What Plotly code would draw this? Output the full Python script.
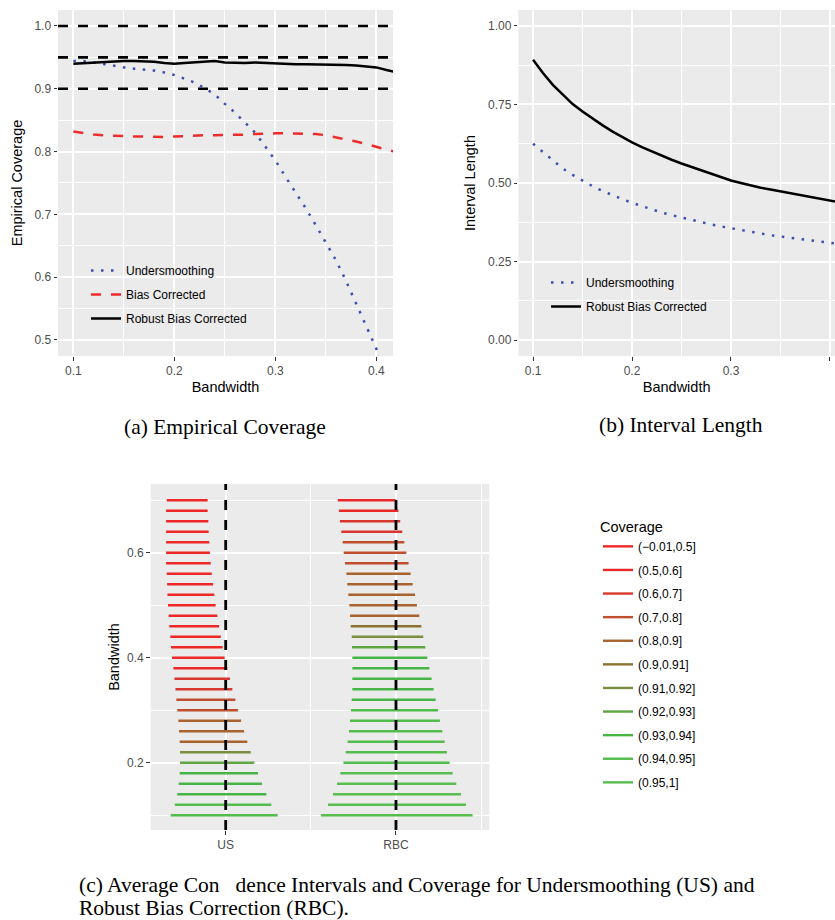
import plotly.graph_objects as go

W, H = 835, 920
def PX(p): return p / W
def PY(p): return 1 - p / H

# ---------------- Panel (a): empirical coverage ----------------
bw_a = [0.10, 0.11, 0.12, 0.13, 0.14, 0.15, 0.16, 0.17, 0.18, 0.19, 0.20,
        0.21, 0.22, 0.23, 0.24, 0.25, 0.26, 0.27, 0.28, 0.29, 0.30,
        0.31, 0.32, 0.33, 0.34, 0.35, 0.36, 0.37, 0.38, 0.39, 0.40, 0.41, 0.42]
cov_us = [0.944, 0.944, 0.942, 0.939, 0.936, 0.934, 0.932, 0.931, 0.929, 0.926, 0.922,
          0.916, 0.910, 0.901, 0.891, 0.876, 0.862, 0.846, 0.830, 0.808, 0.786,
          0.760, 0.736, 0.710, 0.683, 0.656, 0.627, 0.594, 0.559, 0.524, 0.488, 0.450, 0.414]
cov_bc = [0.832, 0.829, 0.827, 0.826, 0.825, 0.825, 0.824, 0.824, 0.823, 0.823, 0.824,
          0.825, 0.825, 0.826, 0.826, 0.826, 0.826, 0.827, 0.828, 0.829, 0.829,
          0.829, 0.829, 0.828, 0.828, 0.826, 0.823, 0.820, 0.816, 0.812, 0.807, 0.803, 0.799]
cov_rbc = [0.940, 0.941, 0.942, 0.943, 0.943, 0.944, 0.944, 0.944, 0.943, 0.941, 0.940,
           0.941, 0.942, 0.943, 0.944, 0.942, 0.941, 0.941, 0.942, 0.941, 0.940,
           0.940, 0.939, 0.939, 0.939, 0.939, 0.938, 0.938, 0.937, 0.936, 0.934, 0.930, 0.926]
ref_levels = [1.0, 0.95, 0.90]

# ---------------- Panel (b): interval length ----------------
bw_b = [0.10, 0.11, 0.12, 0.13, 0.14, 0.15, 0.16, 0.17, 0.18, 0.19, 0.20,
        0.21, 0.22, 0.23, 0.24, 0.25, 0.26, 0.27, 0.28, 0.29, 0.30,
        0.31, 0.32, 0.33, 0.34, 0.35, 0.36, 0.37, 0.38, 0.39, 0.40, 0.41]
len_us = [0.625, 0.598, 0.570, 0.546, 0.526, 0.508, 0.490, 0.475, 0.461, 0.449, 0.437,
          0.426, 0.416, 0.406, 0.398, 0.390, 0.383, 0.375, 0.368, 0.362, 0.356,
          0.350, 0.345, 0.339, 0.334, 0.330, 0.326, 0.322, 0.318, 0.314, 0.310, 0.306]
len_rbc = [0.892, 0.850, 0.812, 0.780, 0.751, 0.727, 0.705, 0.684, 0.664, 0.646, 0.629,
           0.614, 0.600, 0.587, 0.574, 0.562, 0.551, 0.540, 0.529, 0.518, 0.508,
           0.500, 0.492, 0.485, 0.479, 0.473, 0.467, 0.461, 0.454, 0.448, 0.443, 0.438]

# ---------------- Panel (c): average CIs ----------------
ci_methods = ["US", "RBC"]
ci_centers = [1, 2]
bw_c = [0.70, 0.68, 0.66, 0.64, 0.62, 0.60, 0.58, 0.56, 0.54, 0.52, 0.50,
        0.48, 0.46, 0.44, 0.42, 0.40, 0.38, 0.36, 0.34, 0.32, 0.30,
        0.28, 0.26, 0.24, 0.22, 0.20, 0.18, 0.16, 0.14, 0.12, 0.10]
us_lo = [-0.346, -0.350, -0.350, -0.350, -0.350, -0.350, -0.350, -0.346, -0.344, -0.342, -0.339,
         -0.335, -0.331, -0.325, -0.321, -0.315, -0.307, -0.301, -0.295, -0.290, -0.284,
         -0.278, -0.274, -0.270, -0.268, -0.268, -0.270, -0.276, -0.284, -0.299, -0.323]
us_hi = [-0.106, -0.106, -0.102, -0.100, -0.096, -0.092, -0.088, -0.082, -0.074, -0.067, -0.059,
         -0.049, -0.039, -0.029, -0.018, -0.006, 0.010, 0.025, 0.039, 0.057, 0.072,
         0.090, 0.108, 0.127, 0.147, 0.168, 0.190, 0.213, 0.239, 0.268, 0.305]
rbc_lo = [-0.342, -0.335, -0.329, -0.321, -0.313, -0.307, -0.299, -0.291, -0.286, -0.280, -0.274,
          -0.270, -0.266, -0.260, -0.258, -0.256, -0.256, -0.256, -0.256, -0.260, -0.264,
          -0.270, -0.276, -0.284, -0.295, -0.309, -0.327, -0.346, -0.370, -0.399, -0.440]
rbc_hi = [-0.002, 0.014, 0.025, 0.037, 0.049, 0.061, 0.074, 0.086, 0.098, 0.112, 0.123,
          0.137, 0.149, 0.160, 0.172, 0.184, 0.196, 0.209, 0.221, 0.233, 0.247,
          0.258, 0.272, 0.286, 0.299, 0.315, 0.333, 0.354, 0.382, 0.411, 0.450]
cov_labels = ["(\u22120.01,0.5]", "(0.5,0.6]", "(0.6,0.7]", "(0.7,0.8]", "(0.8,0.9]",
              "(0.9,0.91]", "(0.91,0.92]", "(0.92,0.93]", "(0.93,0.94]", "(0.94,0.95]", "(0.95,1]"]
cov_colors = ["#EE2727", "#EA2828", "#D8372D", "#C14E2E", "#A8632F", "#8C7331",
              "#7A8D40", "#5EA544", "#46B545", "#52BC4C", "#58BE50"]
us_bin = [0, 0, 0, 0, 0, 0, 0, 0, 0, 0, 0, 0, 0, 0, 0, 0,
          1, 2, 2, 3, 3, 4, 4, 4, 6, 7, 8, 8, 8, 9, 9]
rbc_bin = [1, 1, 2, 2, 3, 3, 3, 4, 4, 4, 4, 4, 5, 6, 7, 8,
           8, 8, 8, 8, 9, 9, 9, 9, 9, 9, 10, 10, 10, 10, 10]

BLUE = "#3C4FB0"
RED = "#EE2C2C"
LW = 2.5
fig = go.Figure()

# panel (a)
fig.add_trace(go.Scatter(x=bw_a, y=cov_us, mode="lines", name="Undersmoothing",
                         line=dict(color=BLUE, width=LW, dash="2.5px,7.5px"),
                         xaxis="x", yaxis="y", legend="legend", legendgroup="a1"))
fig.add_trace(go.Scatter(x=bw_a, y=cov_bc, mode="lines", name="Bias Corrected",
                         line=dict(color=RED, width=LW, dash="10px,10px"),
                         xaxis="x", yaxis="y", legend="legend", legendgroup="a2"))
fig.add_trace(go.Scatter(x=bw_a, y=cov_rbc, mode="lines", name="Robust Bias Corrected",
                         line=dict(color="black", width=LW),
                         xaxis="x", yaxis="y", legend="legend", legendgroup="a3"))
# panel (b)
fig.add_trace(go.Scatter(x=bw_b, y=len_us, mode="lines", name="Undersmoothing",
                         line=dict(color=BLUE, width=LW, dash="2.5px,7.5px"),
                         xaxis="x2", yaxis="y2", legend="legend2", legendgroup="b1"))
fig.add_trace(go.Scatter(x=bw_b, y=len_rbc, mode="lines", name="Robust Bias Corrected",
                         line=dict(color="black", width=LW),
                         xaxis="x2", yaxis="y2", legend="legend2", legendgroup="b2"))
# panel (c)
for k, lab in enumerate(cov_labels):
    xs, ys = [], []
    for c, lo, hi, bins in ((ci_centers[0], us_lo, us_hi, us_bin),
                            (ci_centers[1], rbc_lo, rbc_hi, rbc_bin)):
        for h, l, u, b in zip(bw_c, lo, hi, bins):
            if b == k:
                xs += [c + l, c + u, None]
                ys += [h, h, None]
    fig.add_trace(go.Scatter(x=xs, y=ys, mode="lines", name=lab,
                             line=dict(color=cov_colors[k], width=2.4),
                             xaxis="x3", yaxis="y3", legend="legend3", legendgroup="c%d" % k))

shapes = []
for lv in ref_levels:
    shapes.append(dict(type="line", xref="x domain", yref="y", x0=0, x1=1, y0=lv, y1=lv,
                       line=dict(color="black", width=2.6, dash="10px,10px"), layer="above"))
for c in ci_centers:
    shapes.append(dict(type="line", xref="x3", yref="y3 domain", x0=c, x1=c, y0=0, y1=1,
                       line=dict(color="black", width=2.8, dash="10px,10px"), layer="above"))

TICKF = dict(family="Liberation Sans, Arial, sans-serif", size=12, color="#4D4D4D")
TITLEF = dict(family="Liberation Sans, Arial, sans-serif", size=14.5, color="black")
common = dict(showgrid=True, gridcolor="white", gridwidth=2, zeroline=False, showline=False,
              ticks="outside", ticklen=3.5, tickwidth=1.1, tickcolor="#333333",
              tickfont=TICKF)
minor = dict(showgrid=True, gridcolor="white", gridwidth=1, ticks="")

fig.update_layout(
    width=W, height=H, margin=dict(l=0, r=0, t=0, b=0),
    paper_bgcolor="white", plot_bgcolor="#EBEBEB",
    font=dict(family="Liberation Sans, Arial, sans-serif", color="black"),
    shapes=shapes,
    xaxis=dict(domain=[PX(58), PX(393)], range=[0.0848, 0.4165], anchor="y",
               tick0=0.1, dtick=0.1, tickformat=".1f",
               minor=dict(minor, dtick=0.05, tick0=0.1),
               title=dict(text="Bandwidth", font=TITLEF, standoff=4), **common),
    yaxis=dict(domain=[PY(356), PY(10)], range=[0.4745, 1.0254], anchor="x",
               tick0=0, dtick=0.1, tickformat=".1f",
               minor=dict(minor, dtick=0.05, tick0=0),
               title=dict(text="Empirical Coverage", font=TITLEF, standoff=8), **common),
    xaxis2=dict(domain=[PX(518.3), 1.0], range=[0.0851, 0.4051], anchor="y2",
                tick0=0.1, dtick=0.1, tickformat=".1f",
                minor=dict(minor, dtick=0.05, tick0=0.1),
                title=dict(text="Bandwidth", font=TITLEF, standoff=4), **common),
    yaxis2=dict(domain=[PY(356), PY(10)], range=[-0.0501, 1.0501], anchor="x2",
                tick0=0, dtick=0.25, tickformat=".2f",
                minor=dict(minor, dtick=0.125, tick0=0),
                title=dict(text="Interval Length", font=TITLEF, standoff=8), **common),
    xaxis3=dict(domain=[PX(150.7), PX(489.3)], range=[0.5596, 2.548], anchor="y3",
                tickmode="array", tickvals=ci_centers, ticktext=ci_methods,
                minor=dict(minor, tickmode="array", tickvals=[1.5, 2.5]), **common),
    yaxis3=dict(domain=[PY(830), PY(484)], range=[0.0718, 0.7309], anchor="x3",
                tick0=0, dtick=0.2, tickformat=".1f",
                minor=dict(minor, dtick=0.1, tick0=0),
                title=dict(text="Bandwidth", font=TITLEF, standoff=4), **common),
    legend=dict(x=PX(86), y=PY(256), xanchor="left", yanchor="top", bgcolor="rgba(0,0,0,0)",
                font=dict(size=12, color="black"), tracegroupgap=5),
    legend2=dict(x=PX(546), y=PY(268), xanchor="left", yanchor="top", bgcolor="rgba(0,0,0,0)",
                 font=dict(size=12, color="black"), tracegroupgap=5),
    legend3=dict(x=PX(598), y=PY(513), xanchor="left", yanchor="top", bgcolor="rgba(0,0,0,0)",
                 font=dict(size=12, color="black"), tracegroupgap=4.6,
                 title=dict(text="Coverage", font=dict(size=14.5, color="black"))),
)

CAPF = dict(family="Liberation Serif, Times New Roman, serif", size=21.5, color="black")
ann = [
    dict(text="(a) Empirical Coverage", x=PX(225), y=PY(427), xanchor="center", yanchor="middle"),
    dict(text="(b) Interval Length", x=PX(680.5), y=PY(425), xanchor="center", yanchor="middle"),
    dict(text="(c) Average Con\u00a0\u00a0\u00a0dence Intervals and Coverage for Undersmoothing (US) and",
         x=PX(77), y=PY(885), xanchor="left", yanchor="middle"),
    dict(text="Robust Bias Correction (RBC).", x=PX(77), y=PY(908), xanchor="left", yanchor="middle"),
]
for a in ann:
    fig.add_annotation(xref="paper", yref="paper", showarrow=False, font=CAPF, **a)

fig.write_html("out.html", config={"displayModeBar": False},
               post_script="document.body.style.margin='0';document.body.style.padding='0';")
